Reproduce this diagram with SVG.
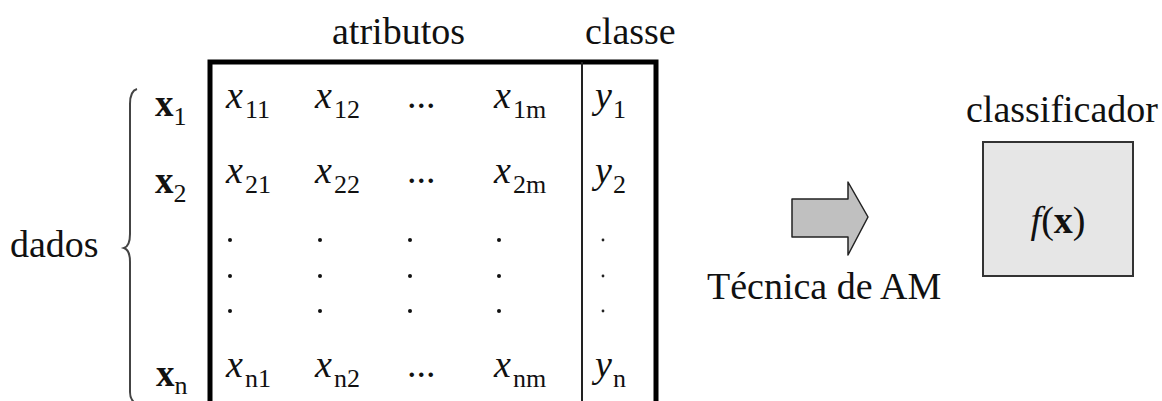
<svg xmlns="http://www.w3.org/2000/svg" width="1162" height="401" viewBox="0 0 1162 401">
<style>
text{font-family:"Liberation Serif","Times New Roman",serif;fill:#111}
.lbl{font-size:38px}
.v{font-size:38px;font-style:italic}
.b{font-size:37px;font-weight:bold}
.s{font-size:26px;font-style:normal;font-weight:normal}
.dot{fill:#111}
.sd{fill:#222}
</style>
<rect width="1162" height="401" fill="#fff"/>
<g id="headers">
<text class="lbl" x="332" y="44">atributos</text>
<text class="lbl" x="585" y="44">classe</text>
</g>
<g id="dados">
<text class="lbl" x="10" y="257">dados</text>
<path d="M137 89 Q130 91 130 104 L130 234 Q130 246 124 248 Q130 250 130 262 L130 392 Q130 401 137 404" fill="none" stroke="#444" stroke-width="2"/>
</g>
<g id="rowlabels">
<text class="b" x="155" y="116">x<tspan class="s" dy="9">1</tspan></text>
<text class="b" x="155" y="193">x<tspan class="s" dy="9">2</tspan></text>
<text class="b" x="156" y="386">x<tspan class="s" dy="8">n</tspan></text>
</g>
<g id="matrix">
<path d="M210 401 L210 62 L656 62 L656 401" fill="none" stroke="#000" stroke-width="5"/>
<line x1="582" y1="62" x2="582" y2="401" stroke="#222" stroke-width="2"/>
<text class="v" x="226" y="108">x<tspan class="s" dx="2" dy="10">11</tspan></text>
<text class="v" x="315" y="108">x<tspan class="s" dx="2" dy="10">12</tspan></text>
<text class="lbl" x="407" y="108">...</text>
<text class="v" x="494" y="108">x<tspan class="s" dx="2" dy="10">1m</tspan></text>
<text class="v" x="595" y="108">y<tspan class="s" dx="1" dy="10">1</tspan></text>

<text class="v" x="226" y="183">x<tspan class="s" dx="2" dy="10">21</tspan></text>
<text class="v" x="315" y="183">x<tspan class="s" dx="2" dy="10">22</tspan></text>
<text class="lbl" x="407" y="183">...</text>
<text class="v" x="494" y="183">x<tspan class="s" dx="2" dy="10">2m</tspan></text>
<text class="v" x="595" y="183">y<tspan class="s" dx="1" dy="10">2</tspan></text>

<text class="v" x="226" y="377">x<tspan class="s" dx="2" dy="10">n1</tspan></text>
<text class="v" x="315" y="377">x<tspan class="s" dx="2" dy="10">n2</tspan></text>
<text class="lbl" x="407" y="377">...</text>
<text class="v" x="494" y="377">x<tspan class="s" dx="2" dy="10">nm</tspan></text>
<text class="v" x="595" y="377">y<tspan class="s" dx="1" dy="10">n</tspan></text>

<g class="dot">
<circle cx="230" cy="240" r="2"/><circle cx="230" cy="276" r="2"/><circle cx="230" cy="311" r="2"/>
<circle cx="320" cy="240" r="2"/><circle cx="320" cy="276" r="2"/><circle cx="320" cy="311" r="2"/>
<circle cx="410" cy="240" r="2"/><circle cx="410" cy="276" r="2"/><circle cx="410" cy="311" r="2"/>
<circle cx="499" cy="240" r="2"/><circle cx="499" cy="276" r="2"/><circle cx="499" cy="311" r="2"/>
</g>
<g class="sd">
<circle cx="603" cy="240" r="1.4"/><circle cx="603" cy="276" r="1.4"/><circle cx="603" cy="311" r="1.4"/>
</g>
</g>
<g id="connectors">
<polygon points="792,199 848,199 848,182 868,217 848,255 848,237 792,237" fill="#c0c0c0" stroke="#222" stroke-width="1.5" stroke-linejoin="round"/>
<text class="lbl" x="707" y="299">Técnica de AM</text>
</g>
<g id="classificador">
<text class="lbl" x="1158" y="122" text-anchor="end">classificador</text>
<rect x="983" y="142" width="150" height="134" fill="#e6e6e6" stroke="#333" stroke-width="2"/>
<text class="lbl" x="1058" y="233" text-anchor="middle"><tspan font-style="italic">f</tspan>(<tspan font-weight="bold">x</tspan>)</text>
</g>
</svg>
